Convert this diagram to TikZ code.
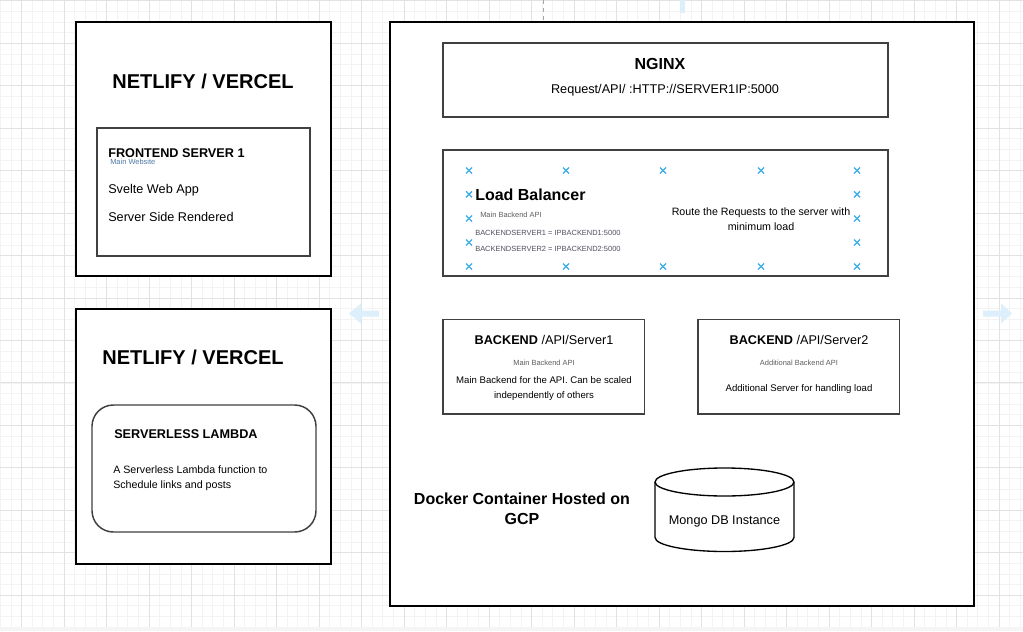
\documentclass[tikz,border=0pt]{standalone}
\usepackage{fontspec}
\setmainfont{Liberation Sans}
\usepackage{tikz}
\usetikzlibrary{positioning,arrows.meta}
\definecolor{gridminor}{HTML}{F3F3F3}
\definecolor{gridmajor}{HTML}{E2E2E2}
\definecolor{hoverblue}{HTML}{DCEFFA}
\definecolor{pointblue}{HTML}{3AADE6}
\definecolor{notegray}{HTML}{5E5E5E}
\definecolor{noteblue}{HTML}{4F78A6}
\definecolor{codegray}{HTML}{50505E}

\begin{document}
\begin{tikzpicture}[x=0.75pt,y=-0.75pt,
  outerbox/.style={draw=black,line width=1pt,fill=white,inner sep=0pt},
  innerbox/.style={draw=black!75,line width=1.1pt,fill=white,inner sep=0pt},
  title/.style={inner sep=0pt,font=\fontsize{15}{18}\selectfont\bfseries},
  heading/.style={inner sep=0pt,font=\fontsize{9.5}{11}\selectfont},
  body/.style={inner sep=0pt,font=\fontsize{9.5}{11}\selectfont},
  small/.style={inner sep=0pt,align=center,font=\fontsize{7.2}{11.25}\selectfont},
  tiny/.style={inner sep=0pt,text=notegray,font=\fontsize{5.6}{6.5}\selectfont},
  pointmark/.style={draw=pointblue,line width=1pt}]
  \useasboundingbox (0,0) rectangle (1023,631);
  \fill[white] (0,0) rectangle (1023,631);
  \foreach \i in {0,...,96}
    \draw[gridminor,line width=0.6pt] ({0.35+10.625*\i},0) -- ({0.35+10.625*\i},627);
  \foreach \i in {0,...,59}
    \draw[gridminor,line width=0.6pt] (0,{0.85+10.6125*\i}) -- (1023,{0.85+10.6125*\i});
  \foreach \i in {0,...,23}
    \draw[gridmajor,line width=0.75pt] ({21.6+42.5*\i},0) -- ({21.6+42.5*\i},627);
  \foreach \i in {0,...,14}
    \draw[gridmajor,line width=0.75pt] (0,{0.85+42.45*\i}) -- (1023,{0.85+42.45*\i});
  \fill[black!4] (0,627) rectangle (1023,631);
  \draw[black!35,dashed,line width=0.6pt] (543,0) -- (543,20);
  \fill[hoverblue] (680,0) rectangle (685,13);
  \fill[hoverblue] (349,313.5) -- (361,303.5) -- (361,310.5) -- (379,310.5)
    -- (379,316.5) -- (361,316.5) -- (361,323.5) -- cycle;
  \fill[hoverblue] (1012,313.5) -- (1001,303.5) -- (1001,310.5) -- (983,310.5)
    -- (983,316.5) -- (1001,316.5) -- (1001,323.5) -- cycle;

  % hosting on netlify / vercel
  \node[outerbox,minimum width=191.25pt,minimum height=190.5pt] (netA) at (203.5,149) {};
  \node[title] (netAtitle) at (203,81) {NETLIFY / VERCEL};
  \node[innerbox,minimum width=159.75pt,minimum height=96pt] (front) at (203.5,192) {};
  \node[heading,font=\fontsize{9.5}{11}\selectfont\bfseries,anchor=west] (frontname) at (108,153) {FRONTEND SERVER 1};
  \node[tiny,text=noteblue,anchor=west] (fronttag) at (110,162) {Main Website};
  \node[body,anchor=west] (svelte) at (108,190) {Svelte Web App};
  \node[body,anchor=west] (ssr) at (108,217) {Server Side Rendered};

  \node[outerbox,minimum width=191.25pt,minimum height=191.25pt] (netB) at (203.5,436.5) {};
  \node[title] (netBtitle) at (193,357) {NETLIFY / VERCEL};
  \node[innerbox,rounded corners=16pt,minimum width=168pt,minimum height=95.25pt] (lambda) at (204,468.5) {};
  \node[heading,font=\fontsize{9.5}{11}\selectfont\bfseries,anchor=west] (lambdaname) at (114,434) {SERVERLESS LAMBDA};
  \node[small,align=left,anchor=west,font=\fontsize{8}{11.25}\selectfont] (lambdadesc) at (113,478.5)
    {A Serverless Lambda function to\\Schedule links and posts};

  % docker container on gcp
  \node[outerbox,minimum width=438pt,minimum height=438pt] (gcp) at (682,314) {};
  \node[innerbox,minimum width=333.75pt,minimum height=55.5pt] (nginx) at (665.5,80) {};
  \node[title,font=\fontsize{12}{14}\selectfont\bfseries] (nginxname) at (660,64) {NGINX};
  \node[body] (nginxroute) at (665,90) {Request/API/ :HTTP://SERVER1IP:5000};

  \node[innerbox,minimum width=333.75pt,minimum height=94.5pt] (lb) at (665.5,213) {};
  \foreach \px in {469,566,663,761,857} {
    \draw[pointmark] (\px-3,167.5) -- (\px+3,173.5) (\px-3,173.5) -- (\px+3,167.5);
    \draw[pointmark] (\px-3,263.5) -- (\px+3,269.5) (\px-3,269.5) -- (\px+3,263.5);
  }
  \foreach \py in {194.3,218.5,242.5} {
    \draw[pointmark] (466,\py-3) -- (472,\py+3) (466,\py+3) -- (472,\py-3);
    \draw[pointmark] (854,\py-3) -- (860,\py+3) (854,\py+3) -- (860,\py-3);
  }
  \node[title,font=\fontsize{12}{14}\selectfont\bfseries,anchor=west] (lbname) at (475,195) {Load Balancer};
  \node[tiny,anchor=west] (lbtag) at (480,215) {Main Backend API};
  \node[tiny,text=codegray,anchor=west] (lbone) at (475,233) {BACKENDSERVER1 = IPBACKEND1:5000};
  \node[tiny,text=codegray,anchor=west] (lbtwo) at (475,249) {BACKENDSERVER2 = IPBACKEND2:5000};
  \node[small,font=\fontsize{8}{11.25}\selectfont] (lbdesc) at (761,219) {Route the Requests to the server with\\minimum load};

  \node[innerbox,minimum width=151.1pt,minimum height=70.9pt] (beone) at (543.75,366.75) {};
  \node[body] (beonename) at (544,340) {\textbf{BACKEND} /API/Server1};
  \node[tiny] (beonetag) at (544,363) {Main Backend API};
  \node[small] (beonedesc) at (544,389) {Main Backend for the API. Can be scaled\\independently of others};

  \node[innerbox,minimum width=151.1pt,minimum height=70.9pt] (betwo) at (798.75,366.75) {};
  \node[body] (betwoname) at (799,340) {\textbf{BACKEND} /API/Server2};
  \node[tiny] (betwotag) at (799,363) {Additional Backend API};
  \node[small] (betwodesc) at (799,389) {Additional Server for handling load};

  \node[title,align=center,font=\fontsize{12}{15}\selectfont\bfseries] (gcpname) at (522,509) {Docker Container Hosted on\\GCP};
  \draw[fill=white,line width=1pt] (655,482) -- (655,537.5)
    arc[start angle=180,end angle=360,x radius=52.1pt,y radius=10.5pt] -- (794,482);
  \draw[line width=1pt] (724.5,482) ellipse [x radius=52.1pt,y radius=10.5pt];
  \node[body] (mongo) at (724.5,521) {Mongo DB Instance};
\end{tikzpicture}
\end{document}
